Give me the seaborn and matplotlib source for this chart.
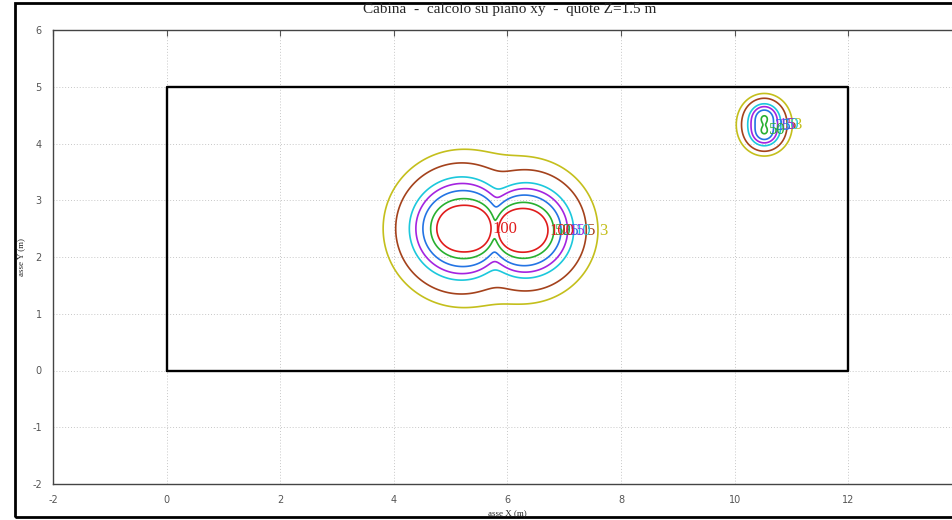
import numpy as np
import seaborn as sns
import matplotlib.pyplot as plt
from matplotlib.patches import Rectangle

# coherent field sources
# (position in m, strength, depth below the plane in m, phase in deg)
src_x = [5.12, 5.38, 6.15, 6.37, 10.52, 10.52]
src_y = [2.50, 2.50, 2.47, 2.47, 4.21, 4.45]
src_amp = [4.5, 4.5, 3.7, 3.7, 0.23, 0.23]
src_depth = [0.10, 0.10, 0.10, 0.10, 0.17, 0.17]
src_phase = [0, 0, 136, 136, 0, 0]

# broad background source (transformer body), added in quadrature
bg_x = [5.75]
bg_y = [2.50]
bg_amp = [13.5]
bg_depth = [1.3]

# contour levels and their colours
levels = [3, 5, 10, 15, 25, 50, 100]
level_colors = ['#c4bf1c', '#a4421c', '#1cc8dc', '#a424e0', '#2474e4', '#28b030', '#e01c1c']

# cabin outline
cabin_x = [0, 12, 12, 0, 0]
cabin_y = [0, 0, 5, 5, 0]

x_ticks = [-2, 0, 2, 4, 6, 8, 10, 12]
y_ticks = [-2, -1, 0, 1, 2, 3, 4, 5, 6]

# field on the xy plane
gx = np.linspace(-2, 14, 961)
gy = np.linspace(-2, 6, 481)
X, Y = np.meshgrid(gx, gy)
Bc = np.zeros_like(X, dtype=complex)
for sx, sy, a, d, ph in zip(src_x, src_y, src_amp, src_depth, src_phase):
    r2 = (X - sx) ** 2 + (Y - sy) ** 2 + d ** 2
    Bc += a * np.exp(1j * np.deg2rad(ph)) / r2 ** 1.5
Bb = np.zeros_like(X)
for sx, sy, a, d in zip(bg_x, bg_y, bg_amp, bg_depth):
    r2 = (X - sx) ** 2 + (Y - sy) ** 2 + d ** 2
    Bb += a / r2 ** 1.5
B = np.sqrt(np.abs(Bc) ** 2 + Bb ** 2)

sns.set_style('white')
plt.rcParams['font.family'] = ['DejaVu Sans']
plt.rcParams['axes.unicode_minus'] = False

fig = plt.figure(figsize=(9.53, 5.2), dpi=100)
ax = fig.add_axes([53 / 953, 36 / 520, 909 / 953, 454 / 520])

cs = ax.contour(X, Y, B, levels=levels, colors=level_colors, linewidths=1.2)

# labels at the right end of every contour loop, like gnuplot does
for lev, col, segs in zip(levels, level_colors, cs.allsegs):
    for seg in segs:
        if len(seg) < 4:
            continue
        i = np.argmax(seg[:, 0])
        ax.text(seg[i, 0] + 0.02, seg[i, 1], str(lev), color=col, fontsize=12,
                family='Liberation Serif', ha='left', va='center')

sns.lineplot(x=cabin_x, y=cabin_y, sort=False, estimator=None, color='black',
             linewidth=1.7, ax=ax)

ax.set_xlim(-2, 14)
ax.set_ylim(-2, 6)
ax.set_xticks(x_ticks)
ax.set_yticks(y_ticks)
ax.grid(True, color='#c8c8c8', linestyle=(0, (1, 2)), linewidth=0.7)
ax.tick_params(axis='both', direction='in', length=4, width=0.8, colors='#555555',
               labelsize=7, top=True, pad=8)
for side in ['left', 'bottom', 'top']:
    ax.spines[side].set_color('#444444')
    ax.spines[side].set_linewidth(1.0)
ax.set_xlabel('')
ax.set_ylabel('')

fig.text(0.535, 0.982, 'Cabina  -  calcolo su piano xy  -  quote Z=1.5 m',
         family='Liberation Serif', fontsize=11, ha='center', va='center')
fig.text(0.532, 0.013, 'asse X (m)', family='Liberation Serif', fontsize=6.5,
         ha='center', va='center')
fig.text(0.022, 0.505, 'asse Y (m)', family='Liberation Serif', fontsize=6.5,
         ha='center', va='center', rotation=90)

# outer frame
fig.add_artist(Rectangle((15 / 953, 0.006), 1.0, 0.988, fill=False, linewidth=2,
                         edgecolor='black', transform=fig.transFigure))

fig.savefig('out.png', dpi=100)
